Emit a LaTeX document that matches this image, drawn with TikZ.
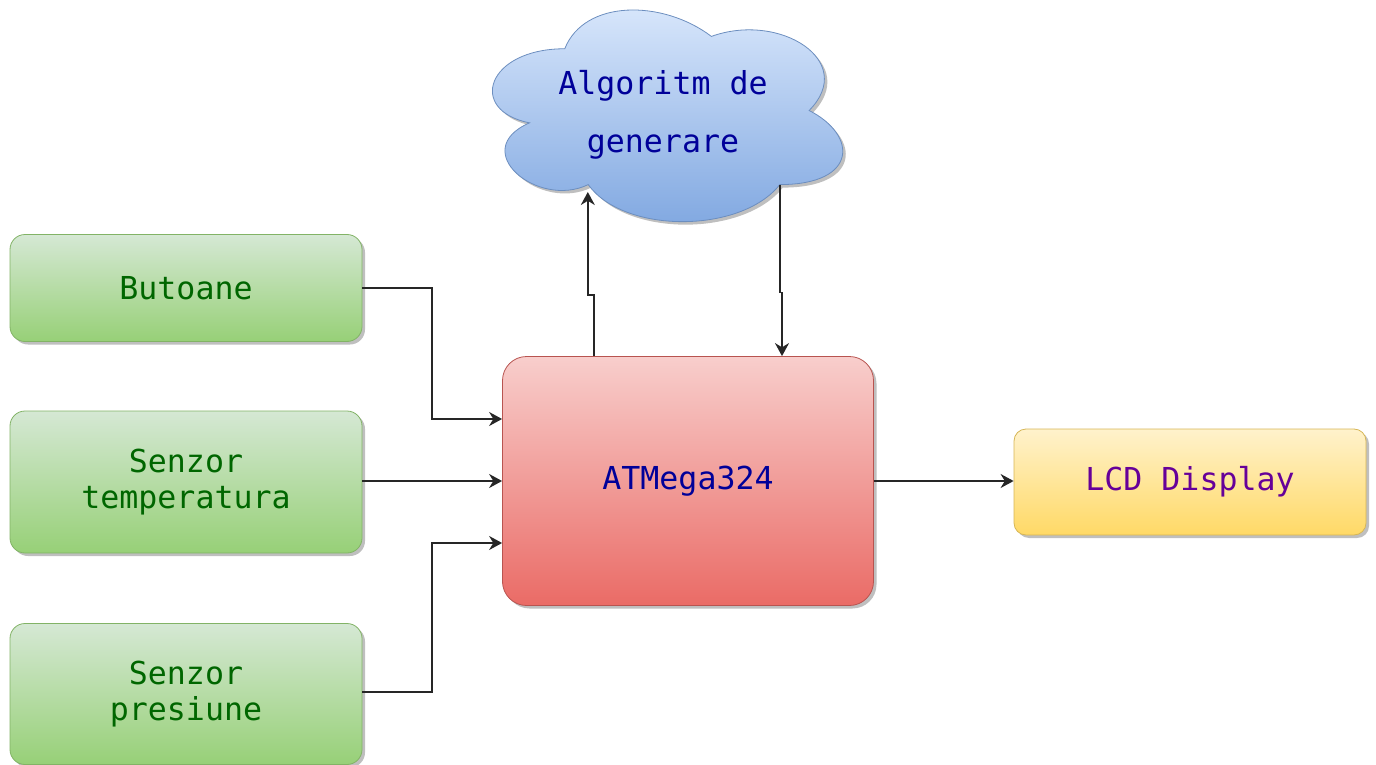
\documentclass[tikz,border=0pt]{standalone}
\usepackage{fontspec}
\setmonofont{DejaVu Sans Mono}
\usepackage{tikz}
\usetikzlibrary{shadows,arrows.meta}

\definecolor{grtop}{HTML}{D5E8D4}
\definecolor{grbot}{HTML}{97D077}
\definecolor{grline}{HTML}{82B366}
\definecolor{grtext}{HTML}{006600}
\definecolor{rdtop}{HTML}{F8CECC}
\definecolor{rdbot}{HTML}{EA6B66}
\definecolor{rdline}{HTML}{B85450}
\definecolor{yltop}{HTML}{FFF2CC}
\definecolor{ylbot}{HTML}{FFD966}
\definecolor{ylline}{HTML}{D6B656}
\definecolor{bltop}{HTML}{DAE8FC}
\definecolor{blbot}{HTML}{7EA6E0}
\definecolor{blline}{HTML}{6C8EBF}
\definecolor{navytext}{HTML}{000099}
\definecolor{purpletext}{HTML}{660099}

\begin{document}
\begin{tikzpicture}[x=0.5pt, y=-0.5pt,
    shade/.style={drop shadow={shadow xshift=1.5pt, shadow yshift=-1.5pt, opacity=0.25, fill=black}},
    txt/.style={font=\ttfamily\fontsize{15.8}{18}\selectfont, align=center},
    greenbox/.style={rectangle, rounded corners=7.5pt, draw=grline, top color=grtop, bottom color=grbot, text=grtext, minimum width=176pt, shade, txt},
    mcubox/.style={rectangle, rounded corners=12pt, draw=rdline, top color=rdtop, bottom color=rdbot, text=navytext, minimum width=185.5pt, minimum height=124.5pt, shade, txt},
    lcdbox/.style={rectangle, rounded corners=6pt, draw=ylline, top color=yltop, bottom color=ylbot, text=purpletext, minimum width=176pt, minimum height=53pt, shade, txt},
    cloudfill/.style={draw=blline, top color=bltop, bottom color=blbot, shade},
    conn/.style={draw=black!85, line width=0.9pt, -{Stealth[length=6.5pt, width=7pt]}}]
\useasboundingbox (0,0) rectangle (1376,765);

% norul
\begin{scope}[shift={(467,-13)}, xscale=391, yscale=247]
  \path[cloudfill] (0.25,0.25) .. controls (0.05,0.25) and (0,0.5) .. (0.16,0.55)
    .. controls (0,0.66) and (0.18,0.9) .. (0.31,0.8)
    .. controls (0.4,1) and (0.7,1) .. (0.8,0.8)
    .. controls (1,0.8) and (1,0.6) .. (0.875,0.5)
    .. controls (1,0.3) and (0.8,0.1) .. (0.625,0.2)
    .. controls (0.5,0.05) and (0.3,0.05) .. (0.25,0.25) -- cycle;
  \coordinate (algin) at (0.309,0.83);
  \coordinate (algout) at (0.8,0.8);
\end{scope}
\node[txt, text=navytext] (alg) at (663,115) {Algoritm de\\[11pt]generare};

\node[greenbox, minimum height=53.5pt] (btn) at (186,288) {Butoane};
\node[greenbox, minimum height=71pt] (temp) at (186,482) {Senzor\\temperatura};
\node[greenbox, minimum height=70.5pt] (pres) at (186,694) {Senzor\\presiune};
\node[mcubox] (atm) at (688,481) {ATMega324};
\node[lcdbox] (lcd) at (1190,482) {LCD Display};

\draw[conn] (btn.east) -| (432,419) -- (atm.west |- 0,419);
\draw[conn] (temp.east |- atm.west) -- (atm.west);
\draw[conn] (pres.east |- 0,692) -| (432,543) -- (atm.west |- 0,543);
\draw[conn] (atm.east) -- (lcd.west |- atm.east);
\draw[conn] ([xshift=-47pt]atm.north) -- ++(0,-61) -| (algin);
\draw[conn] (algout) -- ++(0,108) -| ([xshift=47pt]atm.north);
\end{tikzpicture}
\end{document}
